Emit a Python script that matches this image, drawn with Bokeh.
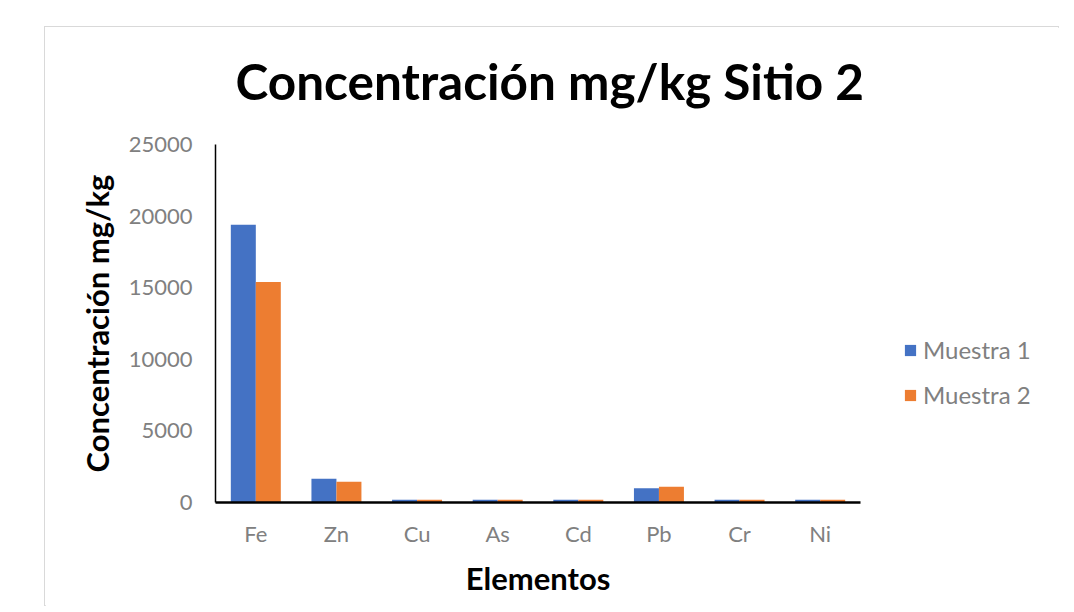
from bokeh.plotting import figure
from bokeh.models import ColumnDataSource, FactorRange, Range1d, FixedTicker, Legend, LegendItem, Title
from bokeh.transform import dodge
from bokeh.embed import file_html
from bokeh.resources import INLINE

categories = ["Fe", "Zn", "Cu", "As", "Cd", "Pb", "Cr", "Ni"]
muestra_1 = [19400, 1650, 200, 200, 200, 1000, 200, 200]
muestra_2 = [15400, 1450, 200, 200, 200, 1100, 200, 200]
y_ticks = [0, 5000, 10000, 15000, 20000, 25000]
title_text = "Concentración mg/kg Sitio 2"

source = ColumnDataSource(dict(cat=categories, m1=muestra_1, m2=muestra_2))

FONT = "Lato"

p = figure(
    x_range=FactorRange(factors=categories),
    y_range=Range1d(0, 25000),
    frame_width=645, frame_height=358,
    min_border_left=170, min_border_right=200,
    min_border_top=117, min_border_bottom=105,
    output_backend="svg", toolbar_location=None,
    title=title_text,
)
p.styles = {"border": "1px solid #d9d9d9", "margin-left": "44px", "margin-top": "26px",
            "width": "1015px", "height": "580px"}

r1 = p.vbar(x=dodge("cat", -0.155, range=p.x_range), top="m1", width=0.31,
            source=source, color="#4472C4", line_color=None)
r2 = p.vbar(x=dodge("cat", 0.155, range=p.x_range), top="m2", width=0.31,
            source=source, color="#ED7D31", line_color=None)

p.title.text_font = FONT
p.title.text_font_size = "49.5px"
p.title.text_font_style = "bold"
p.title.text_color = "#000000"
p.title.align = "left"
p.title.offset = 20
p.title.vertical_align = "bottom"
p.title.standoff = 0

# blank spacer between the title and the plot frame
spacer = Title(text=" ", text_font_size="1px", standoff=31)
p.add_layout(spacer, "above")

p.outline_line_color = None
p.xgrid.grid_line_color = None
p.ygrid.grid_line_color = None

p.yaxis.ticker = FixedTicker(ticks=y_ticks)
p.yaxis.axis_label = "Concentración mg/kg"
p.xaxis.axis_label = "Elementos"
for ax in (p.xaxis[0], p.yaxis[0]):
    ax.major_tick_line_color = None
    ax.minor_tick_line_color = None
    ax.axis_line_color = "#000000"
    ax.major_label_text_font = FONT
    ax.major_label_text_font_size = "22px"
    ax.major_label_text_color = "#808080"
    ax.axis_label_text_font = FONT
    ax.axis_label_text_font_size = "31px"
    ax.axis_label_text_font_style = "bold"
    ax.axis_label_text_color = "#000000"
p.yaxis.axis_line_width = 1.5
p.xaxis.axis_line_width = 2.5
p.yaxis.major_label_standoff = 17
p.xaxis.major_label_standoff = 11
p.yaxis.axis_label_standoff = 10
p.xaxis.axis_label_standoff = 9

legend = Legend(items=[LegendItem(label="Muestra 1", renderers=[r1]),
                       LegendItem(label="Muestra 2", renderers=[r2])],
                location=(43, 93), orientation="vertical")
legend.border_line_color = None
legend.background_fill_alpha = 0
legend.padding = 0
legend.margin = 0
legend.glyph_width = 14
legend.glyph_height = 14
legend.label_height = 20
legend.spacing = 16
legend.label_standoff = 6
legend.label_text_font = FONT
legend.label_text_font_size = "24px"
legend.label_text_color = "#808080"
p.add_layout(legend, "right")

open("out.html", "w").write(file_html(p, INLINE))
